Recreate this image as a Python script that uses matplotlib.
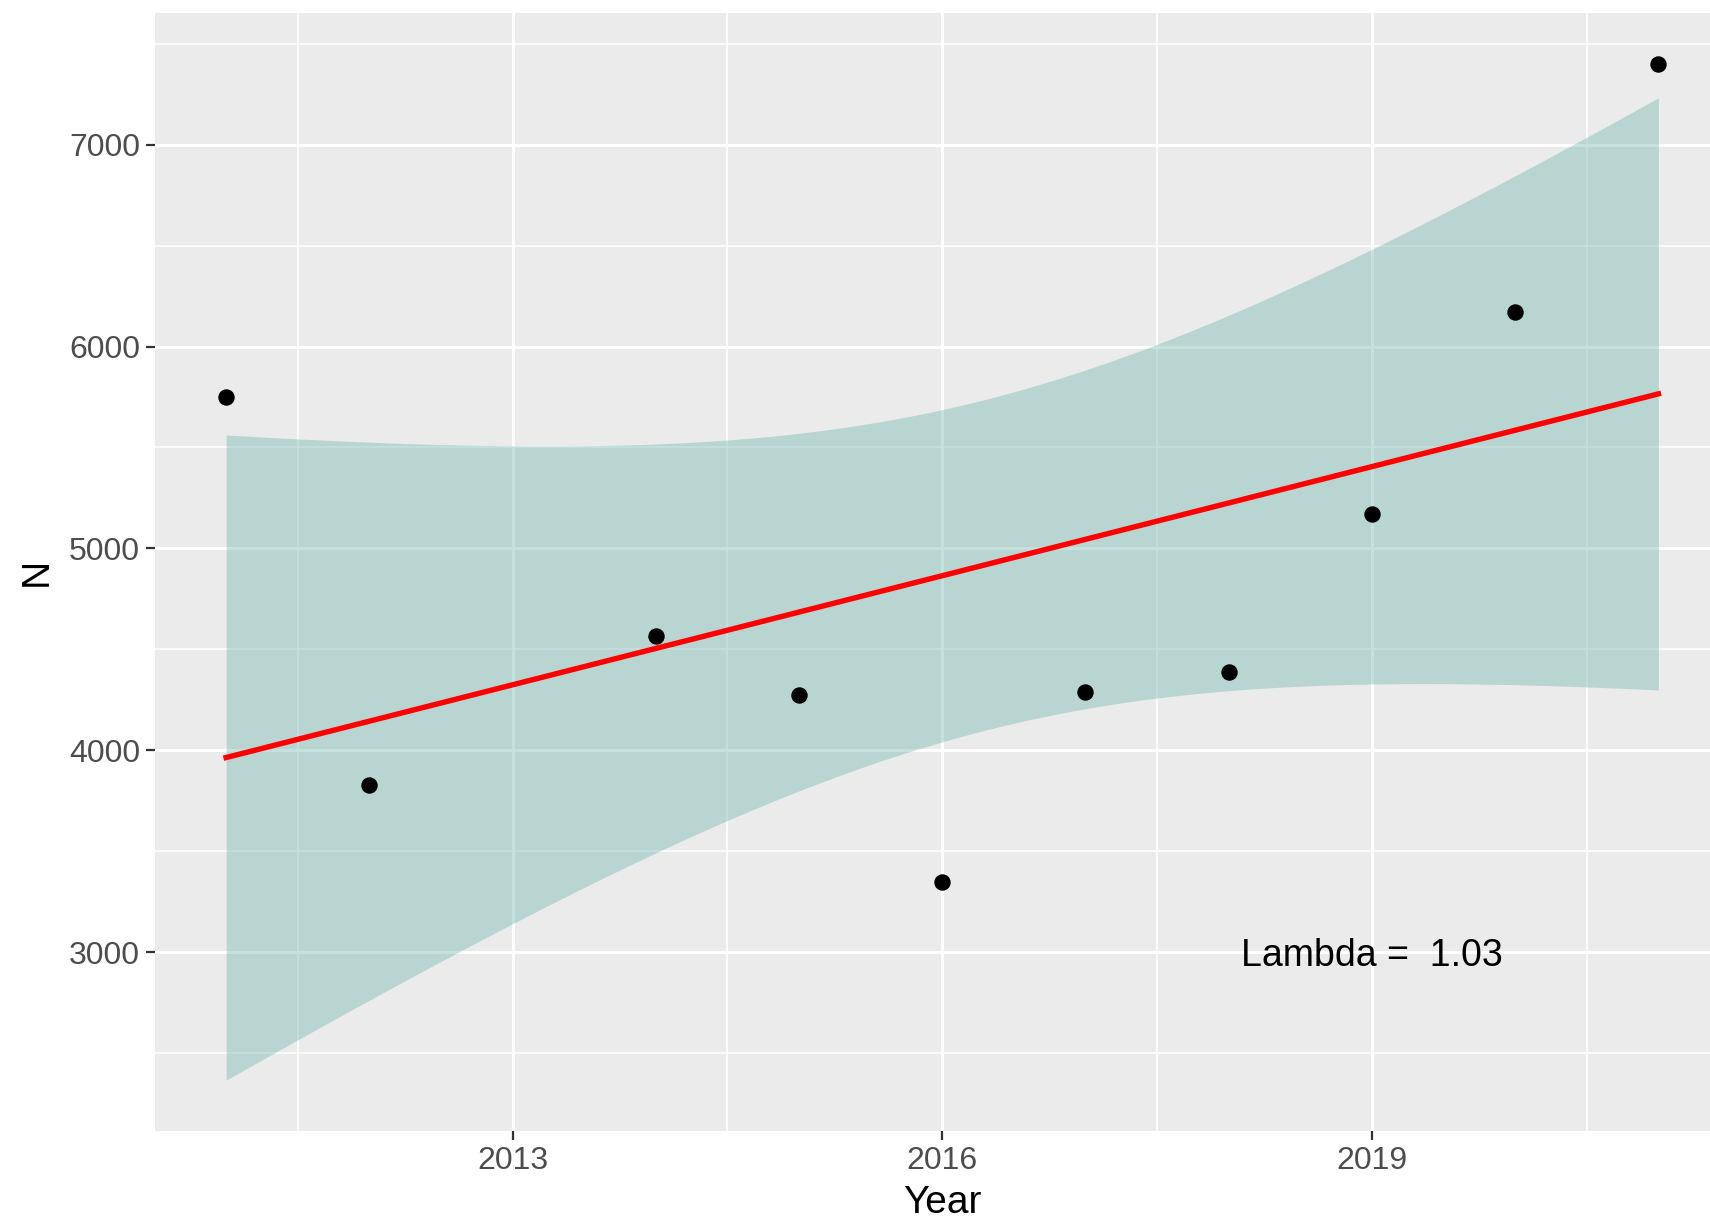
import numpy as np
import matplotlib
matplotlib.use("Agg")
import matplotlib.pyplot as plt
from matplotlib.ticker import FixedLocator

# Data
years = [2011, 2012, 2014, 2015, 2016, 2017, 2018, 2019, 2020, 2021]
N_vals = [5750, 3830, 4565, 4275, 3350, 4290, 4390, 5170, 6170, 7400]
x_ticks = [2013, 2016, 2019]
x_minor = [2011.5, 2014.5, 2017.5, 2020.5]
y_ticks = [3000, 4000, 5000, 6000, 7000]
y_minor = [2500, 3500, 4500, 5500, 6500, 7500]
label_text = "Lambda =  1.03"
label_pos = (2019, 3000)

plt.rcParams['font.family'] = ['Liberation Sans', 'DejaVu Sans']

x = np.array(years, dtype=float)
y = np.array(N_vals, dtype=float)

# geom_smooth(method = "lm") equivalent
n = len(x)
slope, intercept = np.polyfit(x, y, 1)
resid = y - (intercept + slope * x)
s = np.sqrt(np.sum(resid ** 2) / (n - 2))
xbar = x.mean()
sxx = np.sum((x - xbar) ** 2)
t_crit = 2.306004  # t(0.975, df=8)
xg = np.linspace(x.min(), x.max(), 80)
yg = intercept + slope * xg
se = s * np.sqrt(1.0 / n + (xg - xbar) ** 2 / sxx)
lo = yg - t_crit * se
hi = yg + t_crit * se

W, H = 1710, 1219
fig = plt.figure(figsize=(W / 100, H / 100), dpi=100)
left_px, right_px, top_px, bottom_px = 154.5, 1730, 13, 1131
ax = fig.add_axes([left_px / W, 1 - bottom_px / H, (right_px - left_px) / W, (bottom_px - top_px) / H])
ax.set_facecolor('#EBEBEB')
for sp in ax.spines.values():
    sp.set_visible(False)

xr = x.max() - x.min()
ax.set_xlim(x.min() - 0.05 * xr, x.max() + 0.05 * xr)
ymin = min(lo.min(), y.min())
ymax = max(hi.max(), y.max())
yr = ymax - ymin
ax.set_ylim(ymin - 0.05 * yr, ymax + 0.05 * yr)

ax.xaxis.set_major_locator(FixedLocator(x_ticks))
ax.xaxis.set_minor_locator(FixedLocator(x_minor))
ax.yaxis.set_major_locator(FixedLocator(y_ticks))
ax.yaxis.set_minor_locator(FixedLocator(y_minor))
ax.grid(which='major', color='white', linewidth=2.2)
ax.grid(which='minor', color='white', linewidth=1.1)
ax.set_axisbelow(True)

ax.tick_params(which='major', length=6.5, width=1.6, color='#333333',
               labelsize=23, labelcolor='#4D4D4D', pad=4)
ax.tick_params(which='minor', length=0)

ax.fill_between(xg, lo, hi, color='#6EB6AA', alpha=0.4, linewidth=0, zorder=2)
ax.plot(xg, yg, color='red', linewidth=3.9, zorder=3)
ax.scatter(x, y, s=140, color='black', zorder=4, linewidths=0)

ax.text(label_pos[0], label_pos[1], label_text, ha='center', va='center_baseline',
        fontsize=27, color='black', zorder=5)

ax.set_xlabel('Year', fontsize=28, color='black', labelpad=7)
ax.set_ylabel('N', fontsize=28, color='black', labelpad=10)

fig.savefig('out.png', dpi=100)
